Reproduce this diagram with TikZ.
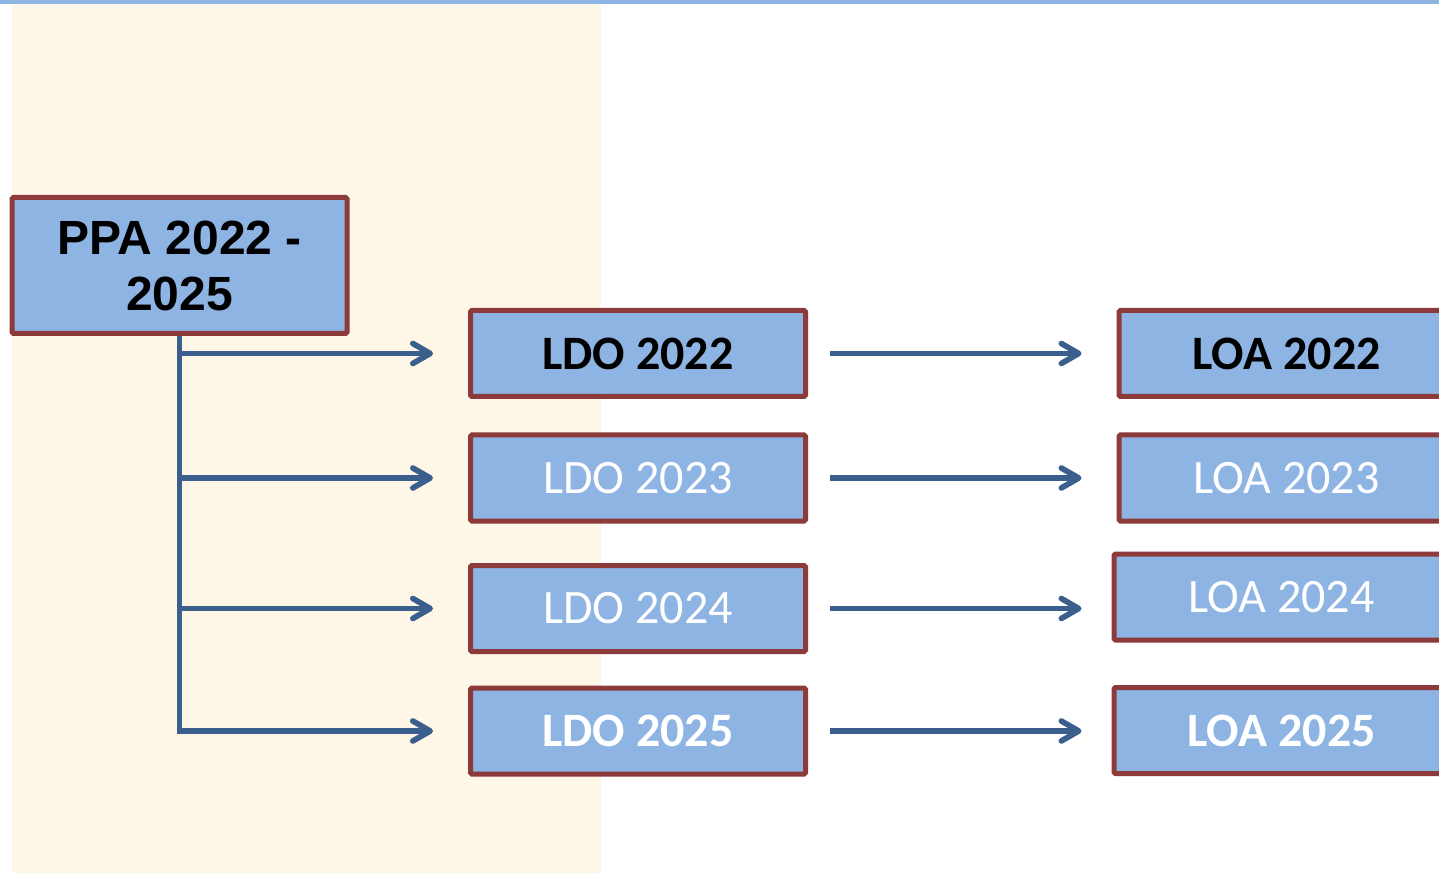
\documentclass[tikz,border=0pt]{standalone}
\usepackage{fontspec}
\setmainfont{Liberation Sans}
\newfontfamily\calibri{Carlito}
\usetikzlibrary{arrows.meta}

\definecolor{boxblue}{HTML}{8EB4E3}
\definecolor{boxred}{HTML}{8C3A3A}
\definecolor{linkblue}{HTML}{3A5F8C}
\definecolor{paper}{HTML}{FEF6E7}

\tikzset{
  box/.style={draw=boxred, fill=boxblue, line width=3.75pt, rounded corners=1pt,
    minimum width=251.25pt, minimum height=64.5pt, inner sep=0pt},
  boldtxt/.style={font=\calibri\bfseries\fontsize{36}{42}\selectfont},
  thintxt/.style={font=\calibri\fontsize{36}{42}\selectfont, text=white},
  link/.style={draw=linkblue, line width=4.25pt,
    -{Straight Barb[length=13pt, width=15pt, line cap=round, line join=round]}},
  branch/.style={link, shorten >=26.25pt},
  flow/.style={link, shorten <=16.5pt, shorten >=26.25pt}
}

\begin{document}
\begin{tikzpicture}[x=0.75pt, y=-0.75pt]

    \useasboundingbox (0,0) rectangle (1439,873);
    \fill[white] (0,0) rectangle (1439,873);
    \fill[paper] (12,4) rectangle (601,873);
    \fill[boxblue] (0,0) rectangle (1439,4);


    \node[box, font=\bfseries\fontsize{36}{42}\selectfont, align=center,
      minimum height=102pt] (ppa) at (179.5,265.5) {PPA 2022 -\\2025};

    \node[box, boldtxt] (ldo22) at (638,353.5) {LDO 2022};
    \node[box, thintxt] (ldo23) at (638,478) {LDO 2023};
    \node[box, thintxt] (ldo24) at (638,608.5) {LDO 2024};
    \node[box, boldtxt, text=white] (ldo25) at (638,731) {LDO 2025};

    \node[box, boldtxt] (loa22) at (1286.5,353.5) {LOA 2022};
    \node[box, thintxt] (loa23) at (1286.5,478) {LOA 2023};
    \node[box, thintxt] (loa24) at (1281.5,597) {LOA 2024};
    \node[box, boldtxt, text=white] (loa25) at (1281.5,730.5) {LOA 2025};


    \draw[branch] (ppa.south) |- (ldo25.west);
    \draw[branch] (ppa.south |- ldo22.west) -- (ldo22.west);
    \draw[branch] (ppa.south |- ldo23.west) -- (ldo23.west);
    \draw[branch] (ppa.south |- ldo24.west) -- (ldo24.west);

    \draw[flow] (ldo22.east) -- (ldo22.east -| loa22.west);
    \draw[flow] (ldo23.east) -- (ldo23.east -| loa23.west);
    \draw[flow, shorten >=22.5pt] (ldo24.east) -- (ldo24.east -| loa24.west);
    \draw[flow, shorten >=22.5pt] (ldo25.east) -- (ldo25.east -| loa25.west);

\end{tikzpicture}
\end{document}
